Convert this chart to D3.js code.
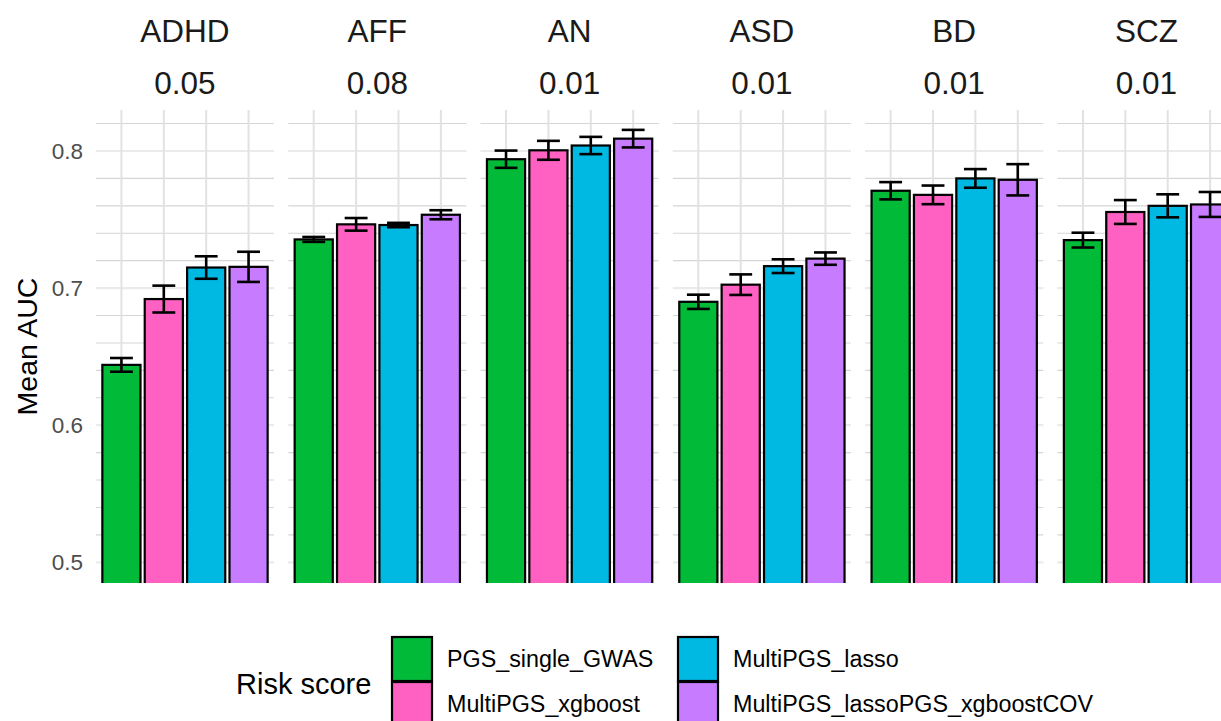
<!DOCTYPE html>
<html>
<head>
<meta charset="utf-8">
<script src="https://cdn.jsdelivr.net/npm/d3@7"></script>
<style>
  html, body { margin: 0; padding: 0; background: #fff; overflow: hidden; }
  svg { display: block; font-family: "Liberation Sans", Arial, sans-serif; }
</style>
</head>
<body>
<div id="chart"></div>
<script>
// facets and the value printed under each facet name
const disorders = ["ADHD", "AFF", "AN", "ASD", "BD", "SCZ"];
const facetNotes = ["0.05", "0.08", "0.01", "0.01", "0.01", "0.01"];

// risk scores (fill groups)
const scores = ["PGS_single_GWAS", "MultiPGS_xgboost", "MultiPGS_lasso", "MultiPGS_lassoPGS_xgboostCOV"];
const colors = ["#00BA38", "#FF61C3", "#00B9E3", "#C77CFF"];

// mean AUC per disorder, one array per score
const meanSingle  = [0.644, 0.7355, 0.794, 0.690, 0.771, 0.735];
const meanXgb     = [0.692, 0.7465, 0.8005, 0.7025, 0.768, 0.7555];
const meanLasso   = [0.715, 0.746, 0.804, 0.716, 0.780, 0.760];
const meanLassoCov= [0.7155, 0.7535, 0.809, 0.7215, 0.779, 0.761];

// error bar half widths
const errSingle   = [0.005, 0.0018, 0.0063, 0.0052, 0.0063, 0.0054];
const errXgb      = [0.0098, 0.0046, 0.0069, 0.0075, 0.0068, 0.0087];
const errLasso    = [0.0082, 0.0016, 0.0063, 0.005, 0.0068, 0.0084];
const errLassoCov = [0.011, 0.0033, 0.0064, 0.0045, 0.0114, 0.0091];

const yTicks = [0.5, 0.6, 0.7, 0.8];
const yTickLabels = ["0.5", "0.6", "0.7", "0.8"];
const yMinor = d3.range(0.5, 0.8201, 0.02);

const means = [meanSingle, meanXgb, meanLasso, meanLassoCov];
const errs = [errSingle, errXgb, errLasso, errLassoCov];

const rows = [];
disorders.forEach((d, i) => {
  scores.forEach((s, j) => {
    rows.push({ disorder: d, score: s, mean: means[j][i], err: errs[j][i] });
  });
});

const W = 1221, H = 721;
const panelTop = 110, panelBottom = 583;

const svg = d3.select("#chart").append("svg")
  .attr("width", W)
  .attr("height", H);

// panel positions
const facetX = d3.scaleBand()
  .domain(disorders)
  .range([96, 1235.5])
  .paddingInner(0.0744);

const xScale = d3.scaleBand()
  .domain(scores)
  .range([0, facetX.bandwidth()])
  .paddingInner(0.1)
  .paddingOuter(0.15);

const yScale = d3.scaleLinear()
  .domain([0.4849, 0.8299])
  .range([panelBottom, panelTop]);

const color = d3.scaleOrdinal().domain(scores).range(colors);

svg.append("defs").append("clipPath")
  .attr("id", "panelClip")
  .append("rect")
  .attr("x", 0)
  .attr("y", panelTop)
  .attr("width", facetX.bandwidth())
  .attr("height", panelBottom - panelTop);

const panels = svg.selectAll("g.panel")
  .data(disorders)
  .enter()
  .append("g")
  .attr("class", "panel")
  .attr("transform", d => "translate(" + facetX(d) + ",0)");

// grid: thin lines every 0.02, heavier at 0.1
panels.selectAll("line.minor")
  .data(yMinor)
  .enter().append("line")
  .attr("x1", 0)
  .attr("x2", facetX.bandwidth())
  .attr("y1", d => yScale(d))
  .attr("y2", d => yScale(d))
  .attr("stroke", "#d6d6d6")
  .attr("stroke-width", 1.1);

panels.selectAll("line.major")
  .data(yTicks)
  .enter().append("line")
  .attr("x1", 0)
  .attr("x2", facetX.bandwidth())
  .attr("y1", d => yScale(d))
  .attr("y2", d => yScale(d))
  .attr("stroke", "#ebebeb")
  .attr("stroke-width", 2.2);

panels.selectAll("line.vgrid")
  .data(scores)
  .enter().append("line")
  .attr("x1", d => xScale(d) + xScale.bandwidth() / 2)
  .attr("x2", d => xScale(d) + xScale.bandwidth() / 2)
  .attr("y1", panelTop)
  .attr("y2", panelBottom)
  .attr("stroke", "#e2e2e2")
  .attr("stroke-width", 2);

// bars
panels.append("g")
  .attr("clip-path", "url(#panelClip)")
  .selectAll("rect")
  .data(d => rows.filter(r => r.disorder === d))
  .enter().append("rect")
  .attr("x", d => xScale(d.score))
  .attr("width", xScale.bandwidth())
  .attr("y", d => yScale(d.mean))
  .attr("height", d => panelBottom + 5 - yScale(d.mean))
  .attr("fill", d => color(d.score))
  .attr("stroke", "#000")
  .attr("stroke-width", 2.2);

// error bars
const capHalf = xScale.step() * 0.27;
const eb = panels.append("g")
  .selectAll("g")
  .data(d => rows.filter(r => r.disorder === d))
  .enter().append("g")
  .attr("stroke", "#000")
  .attr("stroke-width", 2.6);

eb.append("line")
  .attr("x1", d => xScale(d.score) + xScale.bandwidth() / 2)
  .attr("x2", d => xScale(d.score) + xScale.bandwidth() / 2)
  .attr("y1", d => yScale(d.mean + d.err))
  .attr("y2", d => yScale(d.mean - d.err));

eb.selectAll("line.cap")
  .data(d => [{ r: d, v: d.mean + d.err }, { r: d, v: d.mean - d.err }])
  .enter().append("line")
  .attr("x1", d => xScale(d.r.score) + xScale.bandwidth() / 2 - capHalf)
  .attr("x2", d => xScale(d.r.score) + xScale.bandwidth() / 2 + capHalf)
  .attr("y1", d => yScale(d.v))
  .attr("y2", d => yScale(d.v));

// strip labels
panels.append("text")
  .attr("x", facetX.bandwidth() / 2)
  .attr("y", 42)
  .attr("text-anchor", "middle")
  .style("font-size", "31.5px")
  .style("fill", "#1a1a1a")
  .text(d => d);

panels.append("text")
  .attr("x", facetX.bandwidth() / 2)
  .attr("y", 94)
  .attr("text-anchor", "middle")
  .style("font-size", "31.5px")
  .style("fill", "#1a1a1a")
  .text((d, i) => facetNotes[i]);

// y axis labels
svg.selectAll("text.ytick")
  .data(yTicks)
  .enter().append("text")
  .attr("class", "ytick")
  .attr("x", 83)
  .attr("y", d => yScale(d))
  .attr("dy", "0.36em")
  .attr("text-anchor", "end")
  .style("font-size", "22.5px")
  .style("fill", "#4d4d4d")
  .text((d, i) => yTickLabels[i]);

svg.append("text")
  .attr("transform", "translate(37," + (panelTop + panelBottom) / 2 + ") rotate(-90)")
  .attr("text-anchor", "middle")
  .style("font-size", "28.5px")
  .style("fill", "#000")
  .text("Mean AUC");

// legend
svg.append("text")
  .attr("x", 236)
  .attr("y", 694)
  .style("font-size", "29px")
  .style("fill", "#000")
  .text("Risk score");

const keyW = 40, keyH = 44;
const legendCols = [392, 678];
const legendRows = [637, 682];

const legend = svg.selectAll("g.legend")
  .data(scores)
  .enter().append("g")
  .attr("class", "legend")
  .attr("transform", (d, i) => "translate(" + legendCols[Math.floor(i / 2)] + "," + legendRows[i % 2] + ")");

legend.append("rect")
  .attr("width", keyW)
  .attr("height", keyH)
  .attr("fill", d => color(d))
  .attr("stroke", "#000")
  .attr("stroke-width", 2.2);

legend.append("text")
  .attr("x", keyW + 15)
  .attr("y", keyH / 2)
  .attr("dy", "0.36em")
  .style("font-size", "23.3px")
  .style("fill", "#000")
  .text(d => d);
</script>
</body>
</html>
